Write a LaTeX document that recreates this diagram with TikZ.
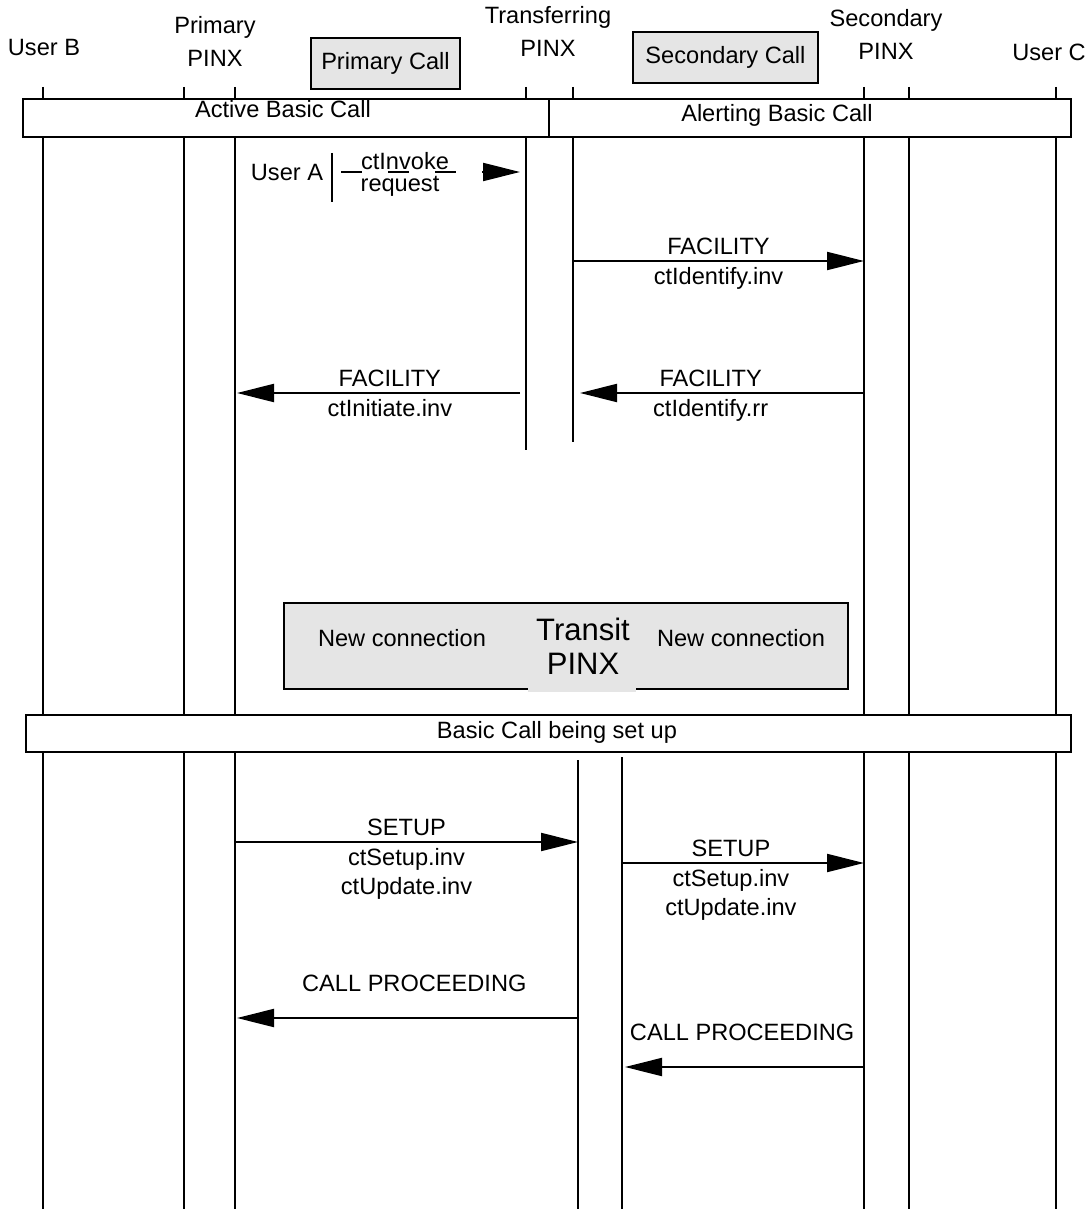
\documentclass[tikz,border=0pt]{standalone}
\usepackage{fontspec}
\setmainfont{Liberation Sans}
\usetikzlibrary{arrows.meta}

\begin{document}
\begin{tikzpicture}[x=0.5pt, y=-0.5pt, font=\fontsize{11.8}{14.5}\selectfont]
        \tikzstyle{life} = [line width=1pt]
        \tikzstyle{msg} = [line width=1pt, -{Triangle[length=18.5pt, width=9pt]}]
        \tikzstyle{lbl} = [inner sep=2.75pt, align=center]
        \tikzstyle{head} = [align=center, font=\fontsize{11.8}{16.5}\selectfont]
        \tikzstyle{callbox} = [rectangle, draw=black, line width=1.3pt, fill=black!10, minimum height=25.5pt, text centered]
        \tikzstyle{statebar} = [draw=black, line width=1pt, fill=white]

        \useasboundingbox (0,0) rectangle (1087,1209);

        % Heads
        \node (userb) [head] at (44,48) {User B};
        \node (ppinx) [head] at (215,41) {Primary\\PINX};
        \node (tpinx) [head] at (548,31) {Transferring\\PINX};
        \node (spinx) [head] at (886,34) {Secondary\\PINX};
        \node (userc) [head] at (1049,52) {User C};
        \node (pcall) [callbox, minimum width=74.5pt] at (385.5,63.5) {Primary Call};
        \node (scall) [callbox, minimum width=92.5pt] at (725.5,57.5) {Secondary Call};

        % Lifelines
        \draw [life] (43,87) -- (43,1209);
        \draw [life] (184,87) -- (184,1209);
        \draw [life] (235,87) -- (235,1209);
        \draw [life] (526,87) -- (526,450);
        \draw [life] (573,87) -- (573,442);
        \draw [life] (578,760) -- (578,1209);
        \draw [life] (622,757) -- (622,1209);
        \draw [life] (864,87) -- (864,1209);
        \draw [life] (909,87) -- (909,1209);
        \draw [life] (1056,87) -- (1056,1209);

        % States
        \draw [statebar] (23,99) rectangle (549,137);
        \draw [statebar] (549,99) rectangle (1071,137);
        \node (active) at (283,109) {Active Basic Call};
        \node (alerting) at (777,115) {Alerting Basic Call};
        \draw [statebar] (26,715) rectangle (1071,752);
        \node (setupstate) at (557,732) {Basic Call being set up};

        % Transit PINX
        \draw [fill=black!10, line width=1.3pt] (284,603) rectangle (848,689);
        \fill [black!10] (528,686) rectangle (636,692);
        \node (conn1) at (402,638) {New connection};
        \node (transit) [align=center, font=\fontsize{15.5}{17}\selectfont] at (583,646) {Transit\\PINX};
        \node (conn2) at (741,638) {New connection};

        % User A request
        \node (usera) at (287,172) {User A};
        \draw [line width=1pt] (332,153) -- (332,202);
        \node (invk) at (405,161) {ctInvoke};
        \node (req) at (400,186) {request};
        \coordinate (ua1) at (341,172);
        \coordinate (ua2) at (520,172);
        \draw [msg, dash pattern=on 10.5pt off 13pt] (ua1) -- (ua2);

        % Arrows
        \coordinate (fa1) at (573,261);
        \coordinate (fa2) at (864,261);
        \draw [msg] (fa1) -- node[lbl, above] (fac1) {FACILITY} node[lbl, below] (ident) {ctIdentify.inv} (fa2);

        \coordinate (fb1) at (864,393);
        \coordinate (fb2) at (580,393);
        \draw [msg] (fb1) -- node[lbl, above, pos=0.54] (fac2) {FACILITY} node[lbl, below, pos=0.54] (identrr) {ctIdentify.rr} (fb2);

        \coordinate (fc1) at (520,393);
        \coordinate (fc2) at (237,393);
        \draw [msg] (fc1) -- node[lbl, above, pos=0.46] (fac3) {FACILITY} node[lbl, below, pos=0.46] (initiate) {ctInitiate.inv} (fc2);

        \coordinate (sa1) at (235,842);
        \coordinate (sa2) at (578,842);
        \draw [msg] (sa1) -- node[lbl, above] (setup1) {SETUP} node[lbl, below] (setinv1) {ctSetup.inv\\ctUpdate.inv} (sa2);

        \coordinate (sb1) at (622,863);
        \coordinate (sb2) at (864,863);
        \draw [msg] (sb1) -- node[lbl, above, pos=0.45] (setup2) {SETUP} node[lbl, below, pos=0.45] (setinv2) {ctSetup.inv\\ctUpdate.inv} (sb2);

        \coordinate (ca1) at (578,1018);
        \coordinate (ca2) at (237,1018);
        \draw [msg] (ca1) -- node[lbl, above=10pt, pos=0.48] (proc1) {CALL PROCEEDING} (ca2);

        \coordinate (cb1) at (864,1067);
        \coordinate (cb2) at (625,1067);
        \draw [msg] (cb1) -- node[lbl, above=10pt, pos=0.51] (proc2) {CALL PROCEEDING} (cb2);

    \end{tikzpicture}
\end{document}
